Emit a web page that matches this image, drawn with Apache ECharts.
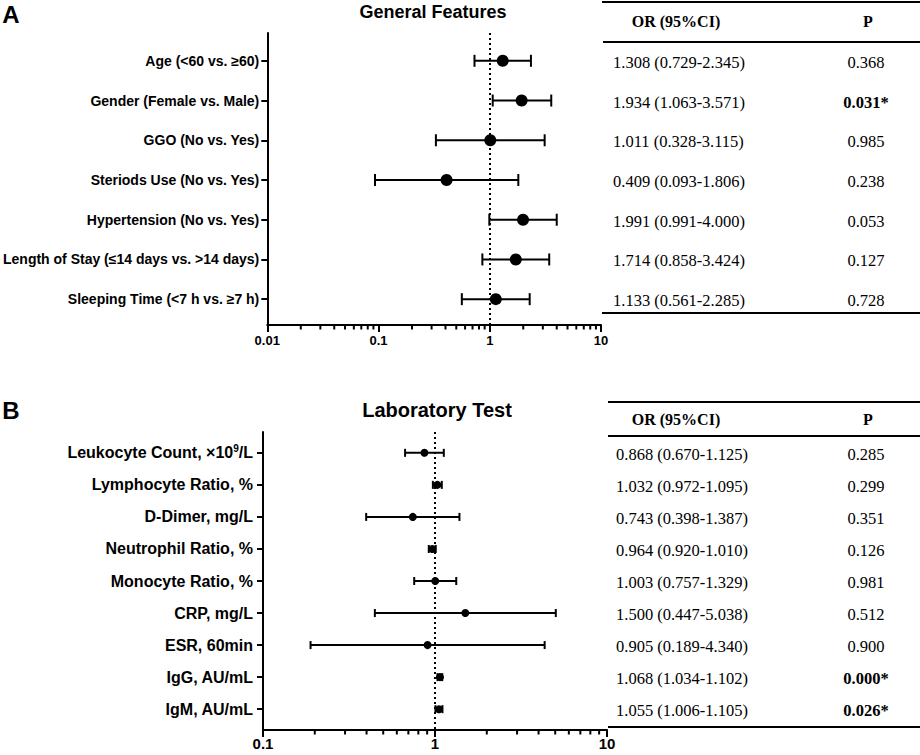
<!DOCTYPE html>
<html><head><meta charset="utf-8">
<script src="https://cdn.jsdelivr.net/npm/echarts@6/dist/echarts.min.js"></script>
<style>html,body{margin:0;padding:0;background:#fff}#c{width:920px;height:755px}</style>
</head><body><div id="c"></div>
<script>
// ---------- Data ----------
const catsA = ['Age (<60 vs. ≥60)', 'Gender (Female vs. Male)', 'GGO (No vs. Yes)', 'Steriods Use (No vs. Yes)', 'Hypertension (No vs. Yes)', 'Length of Stay (≤14 days vs. >14 days)', 'Sleeping Time (<7 h vs. ≥7 h)'];
const orA = [1.308, 1.934, 1.011, 0.409, 1.991, 1.714, 1.133];
const loA = [0.729, 1.063, 0.328, 0.093, 0.991, 0.858, 0.561];
const hiA = [2.345, 3.571, 3.115, 1.806, 4.000, 3.424, 2.285];
const pA = ['0.368', '0.031*', '0.985', '0.238', '0.053', '0.127', '0.728'];
const sigA = [false, true, false, false, false, false, false];

const catsB = ['Leukocyte Count, ×10⁹/L', 'Lymphocyte Ratio, %', 'D-Dimer, mg/L', 'Neutrophil Ratio, %', 'Monocyte Ratio, %', 'CRP, mg/L', 'ESR, 60min', 'IgG, AU/mL', 'IgM, AU/mL'];
const orB = [0.868, 1.032, 0.743, 0.964, 1.003, 1.500, 0.905, 1.068, 1.055];
const loB = [0.670, 0.972, 0.398, 0.920, 0.757, 0.447, 0.189, 1.034, 1.006];
const hiB = [1.125, 1.095, 1.387, 1.010, 1.329, 5.038, 4.340, 1.102, 1.105];
const pB = ['0.285', '0.299', '0.351', '0.126', '0.981', '0.512', '0.900', '0.000*', '0.026*'];
const sigB = [false, false, false, false, false, false, false, true, true];

const tickValsA = [0.01, 0.1, 1, 10];
const tickLabelsA = ['0.01', '0.1', '1', '10'];
const tickValsB = [0.1, 1, 10];
const tickLabelsB = ['0.1', '1', '10'];
const minorMult = [2, 3, 4, 5, 6, 7, 8, 9];
const decadesA = [0.01, 0.1, 1];
const decadesB = [0.1, 1];

const titleA = 'General Features';
const titleB = 'Laboratory Test';
const headOR = 'OR (95%CI)';
const headP = 'P';

// ---------- Helpers ----------
const SANS = '"Liberation Sans", Arial, sans-serif';
const SERIF = '"Liberation Serif", "Times New Roman", serif';
const fmt = v => v.toFixed(3);
const idxA = catsA.map((_, i) => i);
const idxB = catsB.map((_, i) => i);

function errData(or, lo, hi) { return or.map((v, i) => [i, v, lo[i], hi[i]]); }
function minorData(decades) {
  const out = [];
  decades.forEach(d => minorMult.forEach(m => out.push([d * m, 0])));
  return out;
}
function tickFormatter(vals, labels) {
  return function (v) {
    for (let i = 0; i < vals.length; i++) {
      if (Math.abs(Math.log10(v) - Math.log10(vals[i])) < 1e-6) return labels[i];
    }
    return '';
  };
}
function errRender(r, cap) {
  return function (params, api) {
    const y = api.value(0);
    const pO = api.coord([api.value(1), y]);
    const pL = api.coord([api.value(2), y]);
    const pH = api.coord([api.value(3), y]);
    const st = { stroke: '#000', lineWidth: 2 };
    return {
      type: 'group', children: [
        { type: 'line', shape: { x1: pL[0], y1: pL[1], x2: pH[0], y2: pH[1] }, style: st },
        { type: 'line', shape: { x1: pL[0], y1: pL[1] - cap, x2: pL[0], y2: pL[1] + cap }, style: st },
        { type: 'line', shape: { x1: pH[0], y1: pH[1] - cap, x2: pH[0], y2: pH[1] + cap }, style: st },
        { type: 'circle', shape: { cx: pO[0], cy: pO[1], r: r }, style: { fill: '#000' } }
      ]
    };
  };
}
function minorRender(len) {
  return function (params, api) {
    const x = api.coord([api.value(0), api.value(1)])[0];
    const cs = params.coordSys;
    const yb = cs.y + cs.height;
    return { type: 'line', shape: { x1: x, y1: yb - 1, x2: x, y2: yb + len }, style: { stroke: '#000', lineWidth: 2 } };
  };
}
function tableRender(orArr, loArr, hiArr, pArr, sigArr, xL, xP, dy) {
  return function (params, api) {
    const i = api.value(1);
    const y = api.coord([1, i])[1] + dy;
    const t = fmt(orArr[i]) + ' (' + fmt(loArr[i]) + '-' + fmt(hiArr[i]) + ')';
    return {
      type: 'group', children: [
        { type: 'text', x: xL, y: y, style: { text: t, fill: '#000', fontFamily: SERIF, fontSize: 16.5, align: 'left', verticalAlign: 'middle' } },
        { type: 'text', x: xP, y: y, style: { text: pArr[i], fill: '#000', fontFamily: SERIF, fontSize: 16.5, fontWeight: sigArr[i] ? 'bold' : 'normal', align: 'center', verticalAlign: 'middle' } }
      ]
    };
  };
}
function xAxisCfg(gi, min, max, vals, labels, fs, margin) {
  return {
    gridIndex: gi, type: 'log', logBase: 10, min: min, max: max,
    axisLine: { show: true, onZero: false, lineStyle: { color: '#000', width: 2 } },
    axisTick: { show: true, length: 7, lineStyle: { color: '#000', width: 2 } },
    axisLabel: { color: '#000', fontFamily: SANS, fontWeight: 'bold', fontSize: fs, margin: margin, formatter: tickFormatter(vals, labels) },
    splitLine: { show: false }, minorTick: { show: false }
  };
}
function yAxisCfg(gi, min, max, idx, cats, fs, margin) {
  return {
    gridIndex: gi, type: 'value', inverse: true, min: min, max: max,
    axisLine: { show: true, onZero: false, lineStyle: { color: '#000', width: 2 } },
    axisTick: { show: true, length: 6, customValues: idx, lineStyle: { color: '#000', width: 2 } },
    axisLabel: {
      customValues: idx, color: '#000', fontFamily: SANS, fontWeight: 'bold', fontSize: fs, margin: margin,
      formatter: v => {
        const s = cats[Math.round(v)] || '';
        return s.indexOf('⁹') >= 0 ? s.replace('⁹', '{sup|9}') : s;
      },
      rich: { sup: { fontSize: 10, fontFamily: SANS, fontWeight: 'bold', color: '#000', verticalAlign: 'top', padding: [0, 0, 9, 0] } }
    },
    splitLine: { show: false }
  };
}
const refLine = {
  silent: true, symbol: ['none', 'none'], label: { show: false },
  lineStyle: { color: '#000', width: 2, type: [2, 3] },
  data: [{ xAxis: 1 }]
};

// ---------- Chart ----------
const chart = echarts.init(document.getElementById('c'), null, { renderer: 'svg' });
const lineSt = { stroke: '#000', lineWidth: 2 };
chart.setOption({
  animation: false,
  backgroundColor: '#fff',
  grid: [
    { left: 265, top: 33, width: 336, height: 292 },
    { left: 263, top: 432, width: 344, height: 298 }
  ],
  xAxis: [
    xAxisCfg(0, 0.01, 10, tickValsA, tickLabelsA, 13, 9),
    xAxisCfg(1, 0.1, 10, tickValsB, tickLabelsB, 15, 6)
  ],
  yAxis: [
    yAxisCfg(0, -0.7, 6.65, idxA, catsA, 14, 8),
    yAxisCfg(1, -0.65, 8.65, idxB, catsB, 16, 10)
  ],
  series: [
    { type: 'custom', xAxisIndex: 0, yAxisIndex: 0, renderItem: minorRender(4.5), data: minorData(decadesA), encode: { x: 0, y: 1 }, clip: false, silent: true, z: 5 },
    { type: 'custom', xAxisIndex: 1, yAxisIndex: 1, renderItem: minorRender(4.5), data: minorData(decadesB), encode: { x: 0, y: 1 }, clip: false, silent: true, z: 5 },
    { type: 'custom', name: 'General Features', xAxisIndex: 0, yAxisIndex: 0, renderItem: errRender(6, 6), data: errData(orA, loA, hiA), encode: { x: [1, 2, 3], y: 0 }, markLine: refLine, z: 3 },
    { type: 'custom', name: 'Laboratory Test', xAxisIndex: 1, yAxisIndex: 1, renderItem: errRender(4, 4), data: errData(orB, loB, hiB), encode: { x: [1, 2, 3], y: 0 }, markLine: refLine, z: 3 },
    { type: 'custom', xAxisIndex: 0, yAxisIndex: 0, renderItem: tableRender(orA, loA, hiA, pA, sigA, 613, 866, 1.5), data: idxA.map(i => [1, i]), encode: { x: 0, y: 1 }, clip: false, silent: true },
    { type: 'custom', xAxisIndex: 1, yAxisIndex: 1, renderItem: tableRender(orB, loB, hiB, pB, sigB, 616, 866, 1.5), data: idxB.map(i => [1, i]), encode: { x: 0, y: 1 }, clip: false, silent: true }
  ],
  graphic: [
    { type: 'text', x: 11, y: 14, style: { text: 'A', fill: '#000', fontFamily: SANS, fontWeight: 'bold', fontSize: 24, align: 'center', verticalAlign: 'middle' } },
    { type: 'text', x: 11, y: 410, style: { text: 'B', fill: '#000', fontFamily: SANS, fontWeight: 'bold', fontSize: 24, align: 'center', verticalAlign: 'middle' } },
    { type: 'text', x: 433, y: 12, style: { text: titleA, fill: '#000', fontFamily: SANS, fontWeight: 'bold', fontSize: 18, align: 'center', verticalAlign: 'middle' } },
    { type: 'text', x: 437, y: 410, style: { text: titleB, fill: '#000', fontFamily: SANS, fontWeight: 'bold', fontSize: 20, align: 'center', verticalAlign: 'middle' } },
    // table A
    { type: 'line', shape: { x1: 602, y1: 2, x2: 920, y2: 2 }, style: lineSt },
    { type: 'line', shape: { x1: 603, y1: 42, x2: 920, y2: 42 }, style: lineSt },
    { type: 'line', shape: { x1: 602, y1: 313, x2: 920, y2: 313 }, style: lineSt },
    { type: 'text', x: 676, y: 21, style: { text: headOR, fill: '#000', fontFamily: SERIF, fontWeight: 'bold', fontSize: 16, align: 'center', verticalAlign: 'middle' } },
    { type: 'text', x: 868, y: 21, style: { text: headP, fill: '#000', fontFamily: SERIF, fontWeight: 'bold', fontSize: 16, align: 'center', verticalAlign: 'middle' } },
    // table B
    { type: 'line', shape: { x1: 608, y1: 402, x2: 920, y2: 402 }, style: lineSt },
    { type: 'line', shape: { x1: 608, y1: 436, x2: 920, y2: 436 }, style: lineSt },
    { type: 'line', shape: { x1: 608, y1: 727, x2: 920, y2: 727 }, style: lineSt },
    { type: 'text', x: 676, y: 419, style: { text: headOR, fill: '#000', fontFamily: SERIF, fontWeight: 'bold', fontSize: 16, align: 'center', verticalAlign: 'middle' } },
    { type: 'text', x: 868, y: 419, style: { text: headP, fill: '#000', fontFamily: SERIF, fontWeight: 'bold', fontSize: 16, align: 'center', verticalAlign: 'middle' } }
  ]
});
</script>
</body></html>
